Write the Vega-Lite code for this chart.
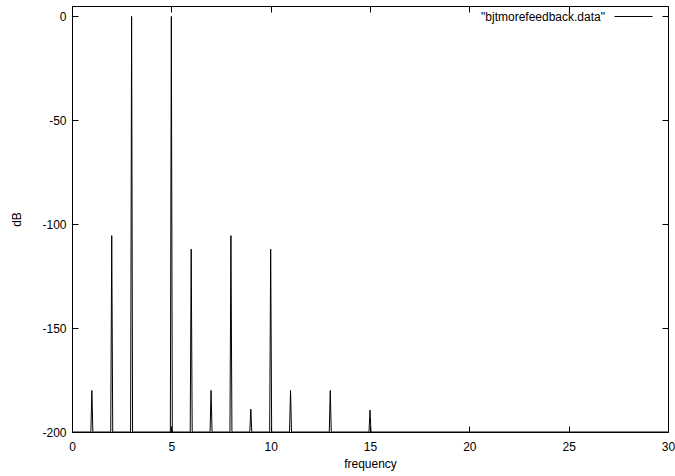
{
  "$schema": "https://vega.github.io/schema/vega-lite/v6.json",
  "autosize": "none",
  "width": 596,
  "height": 426,
  "padding": {"left": 72, "top": 6, "right": 7, "bottom": 44},
  "background": "white",
  "config": {
    "font": "Liberation Sans",
    "view": {"stroke": "black", "strokeWidth": 1},
    "axis": {
      "grid": false,
      "domain": false,
      "labelFlush": false,
      "tickColor": "black",
      "tickSize": -6,
      "tickWidth": 1,
      "labelFont": "Liberation Sans",
      "labelFontSize": 12,
      "labelColor": "black",
      "titleFont": "Liberation Sans",
      "titleFontSize": 12,
      "titleFontWeight": "normal",
      "titleColor": "black",
      "labelExpr": "datum.value < 0 ? '-' + abs(datum.value) : '' + datum.value"
    }
  },
  "data": {
    "values": [
      {"frequency": 0, "dB": -200},
      {"frequency": 0.95, "dB": -200}, {"frequency": 1, "dB": -180}, {"frequency": 1.05, "dB": -200},
      {"frequency": 1.95, "dB": -200}, {"frequency": 2, "dB": -105.5}, {"frequency": 2.05, "dB": -200},
      {"frequency": 2.95, "dB": -200}, {"frequency": 3, "dB": 0}, {"frequency": 3.05, "dB": -200},
      {"frequency": 4.95, "dB": -200}, {"frequency": 5, "dB": 0}, {"frequency": 5.05, "dB": -200},
      {"frequency": 5.95, "dB": -200}, {"frequency": 6, "dB": -112}, {"frequency": 6.05, "dB": -200},
      {"frequency": 6.95, "dB": -200}, {"frequency": 7, "dB": -180}, {"frequency": 7.05, "dB": -200},
      {"frequency": 7.95, "dB": -200}, {"frequency": 8, "dB": -105.5}, {"frequency": 8.05, "dB": -200},
      {"frequency": 8.95, "dB": -200}, {"frequency": 9, "dB": -189}, {"frequency": 9.05, "dB": -200},
      {"frequency": 9.95, "dB": -200}, {"frequency": 10, "dB": -112}, {"frequency": 10.05, "dB": -200},
      {"frequency": 10.95, "dB": -200}, {"frequency": 11, "dB": -180}, {"frequency": 11.05, "dB": -200},
      {"frequency": 12.95, "dB": -200}, {"frequency": 13, "dB": -180}, {"frequency": 13.05, "dB": -200},
      {"frequency": 14.95, "dB": -200}, {"frequency": 15, "dB": -189.5}, {"frequency": 15.05, "dB": -200},
      {"frequency": 30, "dB": -200}
    ]
  },
  "layer": [
    {
      "mark": {"type": "line", "strokeWidth": 1, "clip": true},
      "encoding": {
        "x": {
          "field": "frequency", "type": "quantitative",
          "scale": {"domain": [0, 30], "nice": false, "zero": false},
          "axis": {"orient": "bottom", "values": [0, 5, 10, 15, 20, 25, 30], "title": "frequency", "labelPadding": 15, "titlePadding": 6}
        },
        "y": {
          "field": "dB", "type": "quantitative",
          "scale": {"domain": [-200, 5], "nice": false, "zero": false},
          "axis": {"orient": "left", "values": [0, -50, -100, -150, -200], "title": "dB", "labelPadding": 12, "titlePadding": 18}
        },
        "color": {
          "datum": "\"bjtmorefeedback.data\"",
          "type": "nominal",
          "scale": {"range": ["black"]},
          "legend": {
            "title": null,
            "orient": "none",
            "legendX": 542,
            "legendY": -9,
            "padding": 0,
            "symbolType": "stroke",
            "symbolSize": 1444,
            "symbolStrokeWidth": 1,
            "symbolStrokeColor": "black",
            "symbolOffset": 0,
            "labelOffset": -48,
            "labelAlign": "right",
            "labelFont": "Liberation Sans",
            "labelFontSize": 12,
            "labelColor": "black",
            "labelLimit": 300
          }
        }
      }
    },
    {
      "mark": {"type": "point", "opacity": 0},
      "encoding": {
        "x": {
          "field": "frequency", "type": "quantitative",
          "axis": {"orient": "top", "values": [0, 5, 10, 15, 20, 25, 30], "labels": false, "title": null}
        },
        "y": {
          "field": "dB", "type": "quantitative",
          "axis": {"orient": "right", "values": [0, -50, -100, -150, -200], "labels": false, "title": null}
        }
      }
    }
  ],
  "resolve": {"axis": {"x": "independent", "y": "independent"}}
}
